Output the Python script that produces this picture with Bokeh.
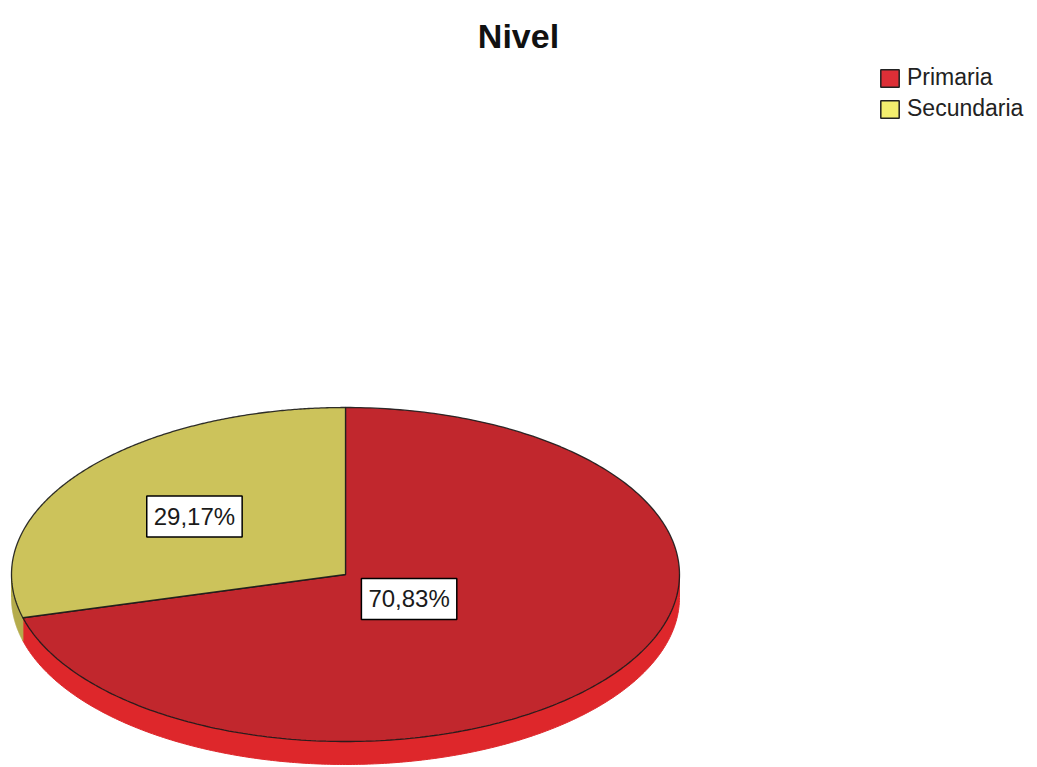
import numpy as np
from bokeh.plotting import figure
from bokeh.models import Range1d, Label, Legend, LegendItem, ColumnDataSource
from bokeh.embed import file_html
from bokeh.resources import INLINE

# ---- data ----
title_text = "Nivel"
categories = ["Primaria", "Secundaria"]
percentages = [70.83, 29.17]
value_labels = ["70,83%", "29,17%"]
top_colors = ["#C1272D", "#CCC35B"]
side_colors = ["#DE272B", "#B5AC4C"]
legend_colors = ["#DD2F37", "#F3EE6E"]

# ---- layout ----
W, H = 1037, 767
CX, CY = 345, 574
RX, RY = 334, 167
DEPTH = 23
label_r = [0.24, 0.57]

p = figure(width=W, height=H, x_range=Range1d(0, W), y_range=Range1d(H, 0),
           output_backend="svg", toolbar_location=None,
           x_axis_type=None, y_axis_type=None, min_border=0)
p.outline_line_color = None
p.grid.visible = False
p.background_fill_color = "white"
p.border_fill_color = "white"


def ex(t):
    return CX + RX * np.cos(np.radians(t))


def ey(t):
    return CY - RY * np.sin(np.radians(t))


top_xs, top_ys, side_xs, side_ys, side_c = [], [], [], [], []
mids = []
start = 90.0
for v, sc in zip(percentages, side_colors):
    end = start - 360.0 * v / 100.0
    ts = np.linspace(end, start, 300)
    top_xs.append(np.concatenate([[CX], ex(ts), [CX]]))
    top_ys.append(np.concatenate([[CY], ey(ts), [CY]]))
    for k in range(-2, 2):
        lo = max(end, 180 + 360 * k)
        hi = min(start, 360 + 360 * k)
        if hi > lo:
            s = np.linspace(lo, hi, 300)
            side_xs.append(np.concatenate([ex(s), ex(s[::-1])]))
            side_ys.append(np.concatenate([ey(s), ey(s[::-1]) + DEPTH]))
            side_c.append(sc)
    mids.append((start + end) / 2.0)
    start = end

side_src = ColumnDataSource(dict(xs=side_xs, ys=side_ys, c=side_c))
p.patches("xs", "ys", source=side_src, fill_color="c", line_color="c", line_width=1)

top_src = ColumnDataSource(dict(xs=top_xs, ys=top_ys, c=top_colors))
p.patches("xs", "ys", source=top_src, fill_color="c", line_color="#1a1a1a",
          line_width=1.3, line_alpha=0.9)

# value labels
for lab, m, r in zip(value_labels, mids, label_r):
    lx = CX + r * RX * np.cos(np.radians(m))
    ly = CY - r * RY * np.sin(np.radians(m))
    p.add_layout(Label(x=lx, y=ly, text=lab, text_align="center", text_baseline="middle",
                       text_font="Liberation Sans", text_font_size="24px", text_color="#1a1a1a",
                       background_fill_color="white", border_line_color="black",
                       border_line_width=1.5, padding=7))

# title
p.add_layout(Label(x=518, y=35, text=title_text, text_align="center", text_baseline="middle",
                   text_font="Liberation Sans", text_font_style="bold", text_font_size="34px",
                   text_color="#111111"))

# legend (swatch renderers hold one off-screen quad each so the legend draws them)
items = []
for cat, c in zip(categories, legend_colors):
    r = p.quad(left=[-60], right=[-50], top=[-60], bottom=[-50], fill_color=c,
               line_color="#222222", line_width=1.5)
    items.append(LegendItem(label=cat, renderers=[r]))
legend = Legend(items=items, location=(878, 645), padding=0, margin=0, spacing=4,
                glyph_width=23, glyph_height=22, label_standoff=6,
                label_text_font="Liberation Sans", label_text_font_size="23px",
                label_text_color="#222222", border_line_alpha=0, background_fill_alpha=0)
p.add_layout(legend)

open("out.html", "w").write(file_html(p, INLINE))
